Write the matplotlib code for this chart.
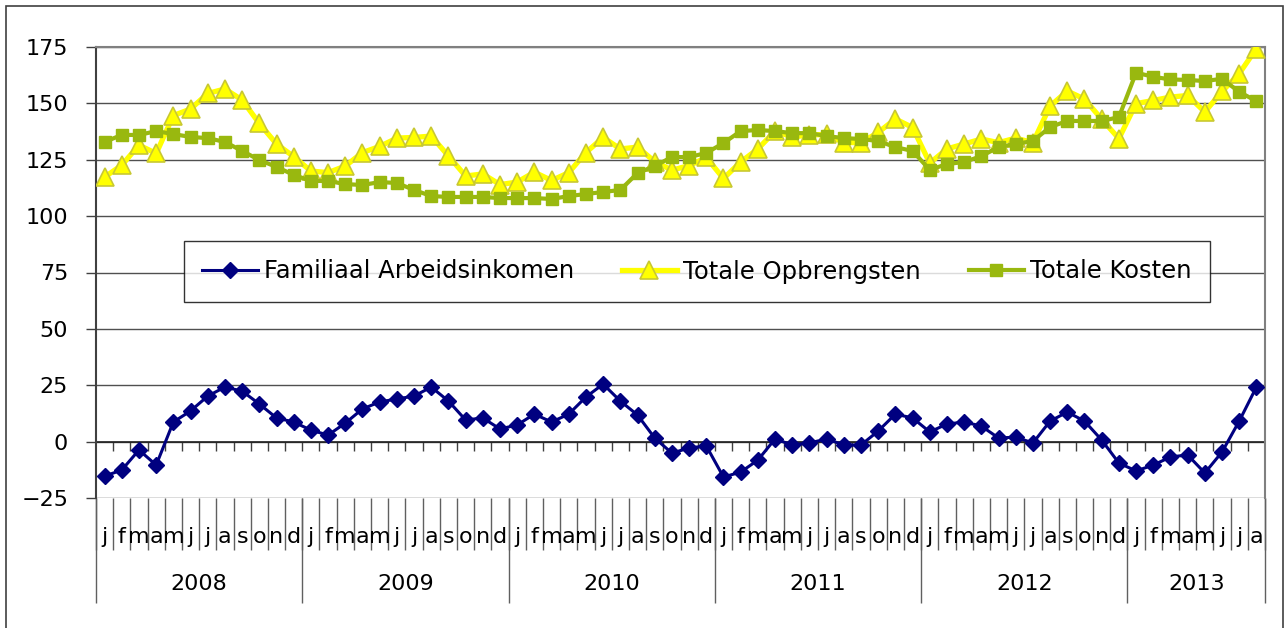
import numpy as np
import matplotlib.pyplot as plt
import matplotlib.transforms as mtransforms

# maanden jan 2008 t/m aug 2013
months = list("jfmamjjasond") * 5 + list("jfmamjja")
years = ["2008", "2009", "2010", "2011", "2012", "2013"]
months_per_year = [12, 12, 12, 12, 12, 8]

arbeidsinkomen = [-15.3, -12.6, -3.7, -10.4, 8.7, 13.6, 20.2, 24.2, 22.4, 16.7, 10.5, 8.7,
                  5.1, 2.9, 8.2, 14.5, 17.6, 18.9, 20.2, 24.2, 18.0, 9.6, 10.5, 5.6,
                  7.4, 12.2, 8.7, 12.2, 19.8, 25.5, 18.0, 11.8, 1.6, -5.1, -2.8, -1.9,
                  -15.7, -13.5, -8.2, 1.2, -1.5, -0.6, 1.2, -1.5, -1.5, 4.7, 12.2, 10.5,
                  4.3, 7.8, 8.7, 6.9, 1.6, 2.0, -0.6, 9.1, 13.1, 9.1, 0.7, -9.5,
                  -13.0, -10.4, -6.8, -5.9, -13.9, -4.6, 9.1, 24.2]

opbrengsten = [117.3, 122.6, 131.5, 127.8, 144.6, 147.5, 154.4, 156.4, 151.5, 141.1, 132.0, 126.4,
               120.0, 119.3, 122.2, 128.2, 130.9, 134.6, 134.9, 135.5, 126.7, 117.8, 118.7, 114.0,
               115.1, 119.5, 115.8, 119.3, 128.2, 134.9, 129.8, 130.6, 124.2, 120.4, 122.4, 126.0,
               116.7, 124.0, 129.8, 137.7, 135.1, 136.0, 136.2, 132.6, 132.6, 137.1, 143.1, 139.3,
               123.5, 129.8, 132.0, 134.2, 132.6, 134.6, 132.6, 148.8, 155.5, 151.9, 143.0, 134.4,
               149.9, 151.3, 152.8, 153.5, 146.2, 155.3, 163.2, 174.3]

kosten = [132.9, 136.0, 136.0, 137.7, 136.4, 135.1, 134.6, 132.9, 128.9, 124.9, 121.8, 118.3,
          115.6, 115.6, 114.2, 113.8, 115.1, 114.7, 111.6, 108.9, 108.5, 108.5, 108.5, 108.0,
          108.0, 108.0, 107.6, 108.9, 109.8, 110.7, 111.6, 119.1, 122.2, 126.2, 126.2, 128.0,
          132.4, 137.7, 138.2, 137.7, 136.8, 136.8, 135.5, 134.6, 134.2, 133.3, 130.6, 128.9,
          120.5, 123.1, 124.0, 126.6, 130.6, 132.0, 133.3, 139.5, 142.2, 142.2, 142.2, 143.9,
          163.6, 161.8, 160.6, 160.4, 159.9, 160.9, 155.1, 151.0]

blue = "#000080"
yellow = "#FFFF00"
yellow_edge = "#C8C832"
green = "#99B80F"

fig = plt.figure(figsize=(12.87, 6.28), dpi=100)
ax = fig.add_axes([96 / 1287, 1 - 498 / 628, (1265 - 96) / 1287, (498 - 47) / 628])

x = np.arange(len(months))

# rand om de hele grafiek
fig.add_artist(plt.Rectangle((6 / 1287, -0.05), (1283 - 6) / 1287, 1.05 - 6 / 628,
                             transform=fig.transFigure, fill=False, ec="#404040", lw=1.2))

ax.plot(x, arbeidsinkomen, color=blue, lw=2.2, marker="D", ms=8.5, mfc=blue, mec=blue,
        label="Familiaal Arbeidsinkomen", zorder=3)
ax.plot(x, opbrengsten, color=yellow, lw=3.8, marker="^", ms=13, mfc=yellow, mec=yellow_edge,
        mew=1.2, label="Totale Opbrengsten", zorder=4)
ax.plot(x, kosten, color=green, lw=3.0, marker="s", ms=9, mfc=green, mec=green,
        label="Totale Kosten", zorder=5)

ax.set_xlim(-0.5, len(months) - 0.5)
ax.set_ylim(-25, 175)
ax.set_yticks(np.arange(-25, 176, 25))
ax.tick_params(axis="y", labelsize=16, length=7, width=1, pad=13, color="#404040")
ax.grid(axis="y", color="#505050", lw=1)
ax.set_axisbelow(True)
ax.set_xticks([])

for side in ["top", "right"]:
    ax.spines[side].set_color("#808080")
    ax.spines[side].set_linewidth(1.5)
ax.spines["bottom"].set_visible(False)
ax.spines["left"].set_color("#404040")
ax.spines["left"].set_linewidth(1.5)

# categorie-as kruist bij 0: kleine tickjes
bounds = np.arange(len(months) + 1) - 0.5
ax.vlines(bounds[1:-1], -4, 0, color="#404040", lw=1, zorder=2)
ax.axhline(0, color="#202020", lw=1.2, zorder=2)

# maand- en jaarlabels onder de as
trans = mtransforms.blended_transform_factory(ax.transData, ax.transAxes)
ax.vlines(bounds, -0.115, 0, transform=trans, color="#606060", lw=1, clip_on=False)
for i, m in enumerate(months):
    ax.text(i, -0.0865, m, transform=trans, ha="center", va="center", fontsize=16)

start = 0
for y, n in zip(years, months_per_year):
    ax.vlines(start - 0.5, -0.233, 0, transform=trans, color="#606060", lw=1, clip_on=False)
    ax.text(start + n / 2 - 0.5, -0.19, y, transform=trans, ha="center", va="center", fontsize=16)
    start += n
ax.vlines(start - 0.5, -0.233, 0, transform=trans, color="#606060", lw=1, clip_on=False)

leg_x = ((181 + 1213) / 2 - 96) / 1169
leg_y = (498 - 271.5) / 451
leg = ax.legend(loc="center", bbox_to_anchor=(leg_x, leg_y),
                ncol=3, fontsize=17.5, frameon=True, fancybox=False,
                handlelength=2.3, borderpad=0.75, columnspacing=1.95, handletextpad=0.25)
leg.get_frame().set_edgecolor("black")
leg.get_frame().set_linewidth(1)
leg.set_zorder(10)

fig.savefig("out.png", dpi=100)
